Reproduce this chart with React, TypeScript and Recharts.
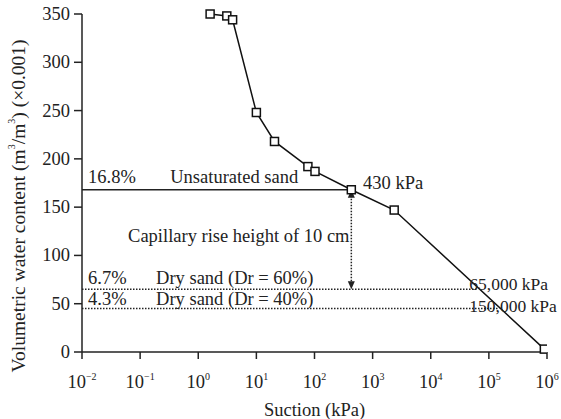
import React from "react";
import {
  LineChart,
  Line,
  XAxis,
  YAxis,
  ReferenceLine,
  ReferenceDot,
} from "recharts";

// soil-water characteristic curve, suction in kPa, water content x0.001
const suction = [1.6, 3.1, 3.9, 10, 20.5, 77, 102, 430, 2350, 900000];
const waterContent = [350, 348, 344, 248, 218, 192, 187, 168, 147, 3];

const xTicks = [1e-2, 1e-1, 1e0, 1e1, 1e2, 1e3, 1e4, 1e5, 1e6];
const yTicks = [0, 50, 100, 150, 200, 250, 300, 350];

const unsatLevel = 168;
const unsatSuction = 430;
const dryLevels = [65, 45];
const dryEnds = [65000, 150000];

// text annotations: [x (kPa), y, text]
const notes: [number, number, string][] = [
  [0.0127, 181, "16.8%"],
  [0.33, 181, "Unsaturated sand"],
  [685, 175, "430 kPa"],
  [0.062, 120, "Capillary rise height of 10 cm"],
  [0.0127, 77, "6.7%"],
  [0.188, 77, "Dry sand (Dr = 60%)"],
  [0.0127, 54.6, "4.3%"],
  [0.188, 54.6, "Dry sand (Dr = 40%)"],
  [46000, 70, "65,000 kPa"],
  [46000, 48, "150,000 kPa"],
];

const data = suction.map((s, i) => ({ suction: s, water: waterContent[i] }));

const FONT = "'Liberation Serif', 'Times New Roman', serif";
const FS = 18.5;
const INK = "#222";

const SquareDot = (p: any) => {
  const { cx, cy } = p;
  if (cx == null || cy == null) return null;
  return (
    <rect
      key={`${cx}-${cy}`}
      x={cx - 4}
      y={cy - 4}
      width={8}
      height={8}
      fill="#fff"
      stroke="#111"
      strokeWidth={1.5}
    />
  );
};

const XTick = (p: any) => {
  const { x, y, payload } = p;
  const e = Math.round(Math.log10(payload.value));
  const exp = e < 0 ? `\u2212${-e}` : `${e}`;
  return (
    <text x={x} y={y + 27} textAnchor="middle" fontFamily={FONT} fontSize={FS} fill={INK}>
      <tspan>10</tspan>
      <tspan dy={-8} fontSize={10}>{exp}</tspan>
    </text>
  );
};

const YTick = (p: any) => {
  const { x, y, payload } = p;
  return (
    <text x={x} y={y} textAnchor="end" dominantBaseline="central" fontFamily={FONT} fontSize={FS} fill={INK}>
      {payload.value}
    </text>
  );
};

const ArrowLine = (p: any) => {
  const { x1, y1, y2 } = p;
  const top = Math.min(y1, y2);
  const bot = Math.max(y1, y2);
  return (
    <g>
      <line x1={x1} y1={top + 6} x2={x1} y2={bot - 6} stroke={INK} strokeWidth={1.5} strokeDasharray="1.5 1.5" />
      <polygon points={`${x1},${top} ${x1 - 3.5},${top + 8} ${x1 + 3.5},${top + 8}`} fill={INK} />
      <polygon points={`${x1},${bot} ${x1 - 3.5},${bot - 8} ${x1 + 3.5},${bot - 8}`} fill={INK} />
    </g>
  );
};

const YLabel = () => (
  <text
    transform="translate(18,206) rotate(-90)"
    textAnchor="middle"
    dominantBaseline="central"
    fontFamily={FONT}
    fontSize={19.5}
    fill={INK}
  >
    Volumetric water content (m
    <tspan dy={-7} fontSize={10}>3</tspan>
    <tspan dy={7}>/m</tspan>
    <tspan dy={-7} fontSize={10}>3</tspan>
    <tspan dy={7}>) (×0.001)</tspan>
  </text>
);

export default function App() {
  return (
    <div style={{ position: "absolute", left: 0, top: 0, background: "#fff", fontFamily: FONT }}>
      <LineChart
        width={561}
        height={419}
        data={data}
        margin={{ top: 14, right: 14, left: 0, bottom: 0 }}
      >
        <XAxis
          dataKey="suction"
          type="number"
          scale="log"
          domain={[0.01, 1e6]}
          ticks={xTicks}
          interval={0}
          allowDataOverflow
          height={67}
          stroke={INK}
          strokeWidth={1.5}
          tickSize={7}
          tick={<XTick />}
          label={{
            value: "Suction (kPa)",
            position: "insideBottom",
            offset: 3,
            fontFamily: FONT,
            fontSize: FS,
            fill: INK,
          }}
        />
        <YAxis
          type="number"
          domain={[0, 350]}
          ticks={yTicks}
          interval={0}
          width={82}
          stroke={INK}
          strokeWidth={1.5}
          tickSize={8}
          tickMargin={4}
          tick={<YTick />}
          label={<YLabel />}
        />
        <ReferenceLine
          segment={[
            { x: 0.01, y: unsatLevel },
            { x: unsatSuction, y: unsatLevel },
          ]}
          stroke={INK}
          strokeWidth={1.5}
        />
        {dryLevels.map((lv, i) => (
          <ReferenceLine
            key={lv}
            segment={[
              { x: 0.01, y: lv },
              { x: dryEnds[i], y: lv },
            ]}
            stroke={INK}
            strokeWidth={1.5}
            strokeDasharray="1.5 1.5"
          />
        ))}
        <ReferenceLine
          segment={[
            { x: unsatSuction, y: unsatLevel },
            { x: unsatSuction, y: dryLevels[0] },
          ]}
          shape={ArrowLine}
        />
        <Line
          dataKey="water"
          stroke="#111"
          strokeWidth={1.5}
          dot={<SquareDot />}
          activeDot={false}
          isAnimationActive={false}
        />
        {notes.map(([x, y, t]) => (
          <ReferenceDot
            key={t}
            x={x}
            y={y}
            shape={(p: any) => (
              <text
                x={p.cx}
                y={p.cy}
                dominantBaseline="central"
                fontFamily={FONT}
                fontSize={t.includes(",") ? 17.5 : FS}
                fill={INK}
              >
                {t}
              </text>
            )}
          />
        ))}
      </LineChart>
    </div>
  );
}
